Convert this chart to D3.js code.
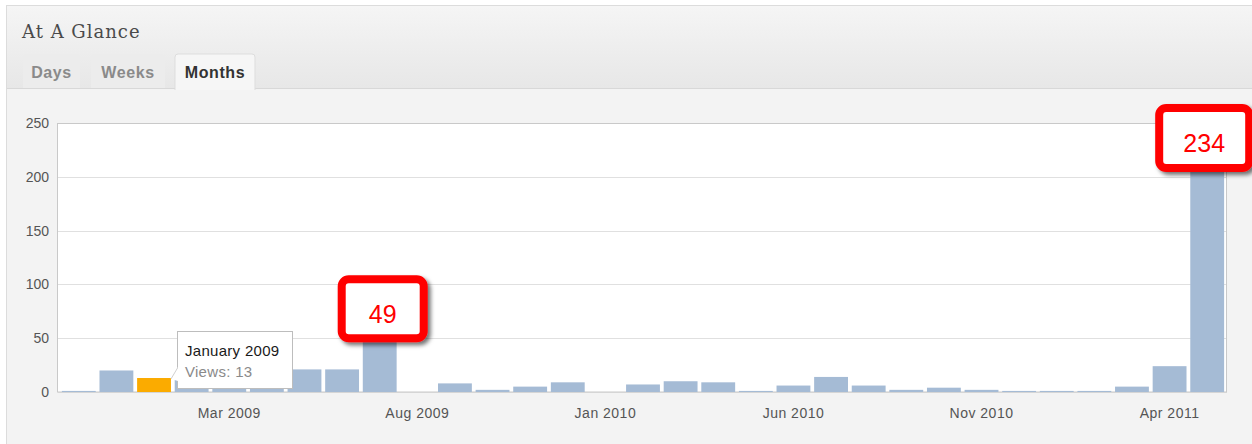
<!DOCTYPE html>
<html>
<head>
<meta charset="utf-8">
<script src="https://cdn.jsdelivr.net/npm/d3@7"></script>
<style>
  body { margin: 0; background: #fff; }
  svg { display: block; }
  text { font-family: "Liberation Sans", Arial, sans-serif; }
</style>
</head>
<body>
<svg id="chart" width="1252" height="444"></svg>
<script>
// monthly views, Nov 2008 .. May 2011
const months = ['Nov 2008', 'Dec 2008', 'Jan 2009', 'Feb 2009', 'Mar 2009', 'Apr 2009', 'May 2009',
  'Jun 2009', 'Jul 2009', 'Aug 2009', 'Sep 2009', 'Oct 2009', 'Nov 2009', 'Dec 2009', 'Jan 2010',
  'Feb 2010', 'Mar 2010', 'Apr 2010', 'May 2010', 'Jun 2010', 'Jul 2010', 'Aug 2010', 'Sep 2010',
  'Oct 2010', 'Nov 2010', 'Dec 2010', 'Jan 2011', 'Feb 2011', 'Mar 2011', 'Apr 2011', 'May 2011']
const views = [1, 20, 13, 15, 12, 17, 21, 21, 49, 0, 8, 2, 5, 9, 0,
  7, 10, 9, 1, 6, 14, 6, 2, 4, 2, 1, 1, 1, 5, 24, 234]
const xTicks = ['Mar 2009', 'Aug 2009', 'Jan 2010', 'Jun 2010', 'Nov 2010', 'Apr 2011']
const yTicks = [0, 50, 100, 150, 200, 250]
const tabs = ['Days', 'Weeks', 'Months']
const activeTab = 'Months'
const highlighted = 'Jan 2009'
const tooltipLines = ['January 2009', 'Views: 13']
const callouts = [
  { month: 'Jul 2009', label: '49' },
  { month: 'May 2011', label: '234' }
]

const svg = d3.select('#chart')

const defs = svg.append('defs')
const grad = defs.append('linearGradient')
  .attr('id', 'headGrad')
  .attr('x1', 0).attr('y1', 0).attr('x2', 0).attr('y2', 1)
grad.append('stop').attr('offset', '0%').attr('stop-color', '#f5f5f5')
grad.append('stop').attr('offset', '100%').attr('stop-color', '#e7e7e7')

const shadow = defs.append('filter')
  .attr('id', 'shadow')
  .attr('x', '-20%').attr('y', '-20%').attr('width', '150%').attr('height', '150%')
shadow.append('feDropShadow')
  .attr('dx', 3).attr('dy', 3)
  .attr('stdDeviation', 2)
  .attr('flood-color', '#000')
  .attr('flood-opacity', 0.55)

// panel + header
svg.append('rect')
  .attr('x', 6.5).attr('y', 5.5)
  .attr('width', 1260).attr('height', 450)
  .attr('fill', '#f3f3f3')
  .attr('stroke', '#dcdcdc')

svg.append('rect')
  .attr('x', 7).attr('y', 6)
  .attr('width', 1250).attr('height', 82)
  .attr('fill', 'url(#headGrad)')

svg.append('line')
  .attr('x1', 7).attr('x2', 1252)
  .attr('y1', 88.5).attr('y2', 88.5)
  .attr('stroke', '#d8d8d8')

svg.append('text')
  .attr('x', 22).attr('y', 38)
  .attr('fill', '#4a4a4a')
  .style('font-family', '"DejaVu Serif", serif')
  .style('font-size', '18px')
  .style('letter-spacing', '1px')
  .text('At A Glance')

const tabX = [23, 91, 175]
const tabW = [57, 74, 80]
const tabG = svg.append('g').attr('class', 'tabs')
tabs.forEach((t, i) => {
  const active = t === activeTab
  const x = tabX[i], w = tabW[i], top = 54, bottom = active ? 90 : 88, r = 3
  tabG.append('path')
    .attr('d', `M${x},${bottom} L${x},${top + r} Q${x},${top} ${x + r},${top} L${x + w - r},${top} Q${x + w},${top} ${x + w},${top + r} L${x + w},${bottom}`)
    .attr('fill', active ? '#f6f6f6' : '#ececec')
    .attr('stroke', active ? '#dddddd' : 'none')
  tabG.append('text')
    .attr('x', x + w / 2).attr('y', 78)
    .attr('text-anchor', 'middle')
    .attr('fill', active ? '#333' : '#8a8a8a')
    .style('font-size', '16px')
    .style('font-weight', 'bold')
    .style('letter-spacing', '0.6px')
    .text(t)
})

// plot
const x = d3.scaleBand()
  .domain(months)
  .range([60, 1226])
  .paddingInner(0.1)
  .paddingOuter(0.05)

const y = d3.scaleLinear()
  .domain([0, 250])
  .range([392, 123])

const plot = svg.append('g').attr('class', 'plot')

plot.append('rect')
  .attr('x', 57.5).attr('y', 123.5)
  .attr('width', 1169).attr('height', 268.5)
  .attr('fill', '#fff')

plot.selectAll('.grid')
  .data(yTicks)
  .enter()
  .append('line')
  .attr('class', 'grid')
  .attr('x1', 58).attr('x2', 1227)
  .attr('y1', d => Math.round(y(d)) + 0.5)
  .attr('y2', d => Math.round(y(d)) + 0.5)
  .attr('stroke', '#e0e0e0')

plot.append('rect')
  .attr('x', 57.5).attr('y', 123.5)
  .attr('width', 1169).attr('height', 268.5)
  .attr('fill', 'none')
  .attr('stroke', '#c9c9c9')

plot.selectAll('.bar')
  .data(months)
  .enter()
  .append('rect')
  .attr('class', 'bar')
  .attr('x', d => x(d))
  .attr('width', x.bandwidth())
  .attr('y', (d, i) => y(views[i]))
  .attr('height', (d, i) => y(0) - y(views[i]))
  .attr('fill', d => d === highlighted ? '#fbab00' : '#a5bbd5')

const yAxis = d3.axisLeft(y).tickValues(yTicks).tickSize(0).tickPadding(9)
svg.append('g')
  .attr('transform', 'translate(58,0)')
  .call(yAxis)
  .call(g => g.select('.domain').remove())
  .call(g => g.selectAll('text')
    .attr('fill', '#555')
    .style('font-size', '14px')
    .style('font-family', '"Liberation Sans", Arial, sans-serif'))

const xAxis = d3.axisBottom(x).tickValues(xTicks).tickSize(0).tickPadding(16)
svg.append('g')
  .attr('transform', 'translate(0,392)')
  .call(xAxis)
  .call(g => g.select('.domain').remove())
  .call(g => g.selectAll('text')
    .attr('fill', '#555')
    .style('font-size', '14px')
    .style('letter-spacing', '0.5px')
    .style('font-family', '"Liberation Sans", Arial, sans-serif'))

// tooltip
const hi = months.indexOf(highlighted)
const tipX = x(highlighted) + x.bandwidth() + 6
const tipY = y(views[hi]) - 47
const tip = svg.append('g').attr('class', 'tooltip')
tip.append('rect')
  .attr('x', Math.round(tipX) + 0.5).attr('y', Math.round(tipY) + 0.5)
  .attr('width', 115).attr('height', 57)
  .attr('fill', '#fff')
  .attr('stroke', '#bdbdbd')
tip.append('path')
  .attr('d', `M${Math.round(tipX) + 1},${tipY + 36} L${x(highlighted) + x.bandwidth()},${y(views[hi]) + 1} L${Math.round(tipX) + 1},${tipY + 50} Z`)
  .attr('fill', '#fff')
tip.append('path')
  .attr('d', `M${Math.round(tipX) + 0.5},${tipY + 37} L${x(highlighted) + x.bandwidth()},${y(views[hi]) + 1}`)
  .attr('stroke', '#d0d0d0')
  .attr('fill', 'none')
tip.selectAll('text')
  .data(tooltipLines)
  .enter()
  .append('text')
  .attr('x', tipX + 8)
  .attr('y', (d, i) => tipY + 25 + i * 21)
  .attr('fill', (d, i) => i === 0 ? '#1a1a1a' : '#8a8a8a')
  .style('font-size', '15px')
  .style('letter-spacing', '0.3px')
  .text(d => d)

// callouts
const boxSize = { '49': [82, 59], '234': [90, 60] }
const boxTop = { '49': d => y(d) - 60, '234': d => y(250) - 15 }
callouts.forEach(c => {
  const i = months.indexOf(c.month)
  const [w, h] = boxSize[c.label]
  const cx = c.label === '234' ? x(c.month) + x.bandwidth() / 2 - 3 : x(c.month) + x.bandwidth() / 2 + 3
  const top = boxTop[c.label](views[i])
  const g = svg.append('g').attr('class', 'callout')
  g.append('rect')
    .attr('x', cx - w / 2).attr('y', top)
    .attr('width', w).attr('height', h)
    .attr('rx', 7)
    .attr('fill', '#fff')
    .attr('stroke', '#ff0000')
    .attr('stroke-width', 8)
    .attr('filter', 'url(#shadow)')
  g.append('text')
    .attr('x', cx).attr('y', top + h / 2 + 14)
    .attr('text-anchor', 'middle')
    .attr('fill', '#ff0000')
    .style('font-size', '25px')
    .text(c.label)
})
</script>
</body>
</html>
